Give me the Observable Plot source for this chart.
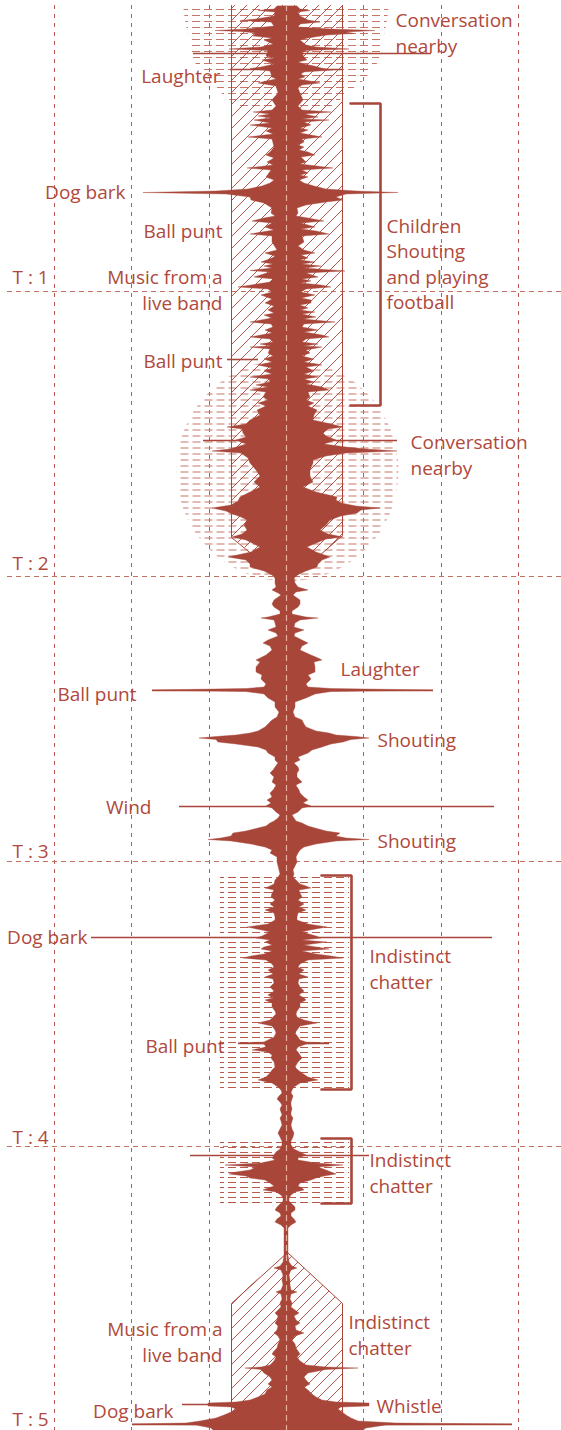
<!DOCTYPE html>
<html><head><meta charset="utf-8">
<script src="https://cdn.jsdelivr.net/npm/d3@7"></script>
<script src="https://cdn.jsdelivr.net/npm/@observablehq/plot@0.6"></script>
<style>html,body{margin:0;padding:0;background:#fff;}svg{display:block;}</style>
</head><body><div id="chart"></div>
<script>
// time in frames (T marks every ~285 frames), amplitude in level units
const tickLabels = ["T : 1", "T : 2", "T : 3", "T : 4", "T : 5"];
const tickFrames = [291, 576, 861, 1146, 1431];
const tickLabelFrames = [283, 569, 857, 1143, 1425];
const gridAmps = [-232, -155, -77, 77, 155, 232];

const leftWave = [[6,9],[9,12],[10.5,28],[12,11],[16,12],[19,30],[20.5,46],[22,15],[26,12],[29,40],[30.5,71],[31.5,45],[33,30],[36,33],[38,14],[40,22],[44,13],[47,25],[49,57],[50.5,18],[56,20],[58,12],[60,24],[64,12],[67,25],[68.5,36],[71,16],[77,14],[79,10],[81,20],[83,28],[86,10],[93,8],[100,14],[106,10],[110,14],[112,33],[114,16],[116,28],[118,15],[120,32],[123,16],[125,36],[128,14],[131,20],[134,13],[137,38],[139,14],[147,12],[152,16],[155,20],[158,12],[162,19],[165,13],[168,39],[170,15],[177,20],[180,12],[183,16],[186,24],[189,38],[191,70],[192.5,143],[194,60],[197,36],[200,35],[203,22],[208,14],[213,15],[216,11],[218,22],[221,34],[223,14],[227,21],[230,12],[234,36],[236,14],[242,14],[250,9],[253,21],[256,11],[258,14],[262,25],[264,13],[266,22],[268,14],[270.5,36],[272,16],[277,32],[279,13],[282,16],[287,48],[289,18],[292,14],[295,25],[299,14],[303,21],[306,12],[310,18],[313,12],[315,22],[318,14],[322,36],[324,15],[327,13],[330,21],[333,14],[337,36],[339,16],[342,13],[344,26],[346,15],[347,36],[349,16],[353,18],[356,13],[359,22],[362,14],[365,28],[368,14],[371,22],[374,14],[377,36],[379,17],[382,16],[385,30],[387,18],[390,36],[392,20],[397,23],[400,18],[403,28],[406,20],[410,29],[415,26],[420,36],[424,40],[427,59],[429,44],[433,43],[437,40],[440,50],[444,40],[449,56],[451,74],[453,45],[458,38],[463,36],[470,30],[476,26],[482,32],[487,26],[492,36],[497,46],[501,48],[505,55],[508,74],[511,60],[513,56],[517,45],[520,39],[525,42],[530,39],[534,44],[537,54],[540,40],[547,26],[552,35],[557,58],[560,40],[564,36],[567,36],[571,22],[575,14],[578,11],[583,11],[587,10],[590,14],[593,8],[595,5],[600,12],[604,14],[607,12],[611,6],[614,6],[617,18],[618,25],[620,12],[623,11],[627,10],[630,18],[633,10],[636,8],[640,18],[643,23],[646,16],[650,14],[655,20],[658,26],[660,30],[662,26],[667,30],[672,30],[675,24],[679,25],[684,20],[687,22],[688.5,40],[690,134],[691.5,40],[694,22],[698,18],[702,11],[707,11],[712,7],[717,9],[720,14],[724,18],[727,21],[731,28],[733,36],[735,50],[736.5,70],[738,87],[739.5,70],[742,68],[744,50],[747,28],[750,20],[753,18],[757,11],[760,11],[763,8],[767,11],[770,13],[773,16],[777,12],[782,14],[785,10],[787,11],[790,13],[793,16],[797,14],[800,19],[803,15],[806,20],[808,14],[812,10],[815,6],[818,8],[821,12],[823,16],[826,20],[828,28],[831,40],[833,53],[836,55],[838,65],[839.5,78],[841,55],[844,35],[847,21],[850,14],[853,16],[857,9],[862,9],[866,8],[870,7],[874,6],[877,8],[880,11],[884,12],[886,16],[888,21],[890,12],[893,14],[897,15],[900,11],[904,16],[907,12],[910,21],[913,12],[917,11],[920,11],[924,18],[927,39],[930,24],[932,16],[936,24],[938,30],[940,16],[942,21],[945,14],[947,22],[949,25],[951,14],[954,22],[956,35],[958,43],[960,20],[964,14],[967,12],[970,18],[974,13],[977,21],[979,13],[983,12],[987,16],[991,12],[995,18],[998,13],[1000,21],[1003,14],[1007,14],[1011,11],[1014,10],[1017,13],[1020,16],[1023,28],[1026,14],[1030,11],[1033,10],[1037,12],[1040,18],[1042,22],[1043,48],[1044,22],[1047,20],[1050,34],[1052,18],[1055,14],[1058,15],[1062,12],[1067,11],[1070,14],[1073,16],[1077,20],[1080,28],[1083,14],[1087,8],[1090,5],[1093,4],[1096,7],[1099,9],[1102,6],[1105,4],[1109,6],[1112,5],[1115,4],[1118,6],[1121,5],[1125,4],[1129,6],[1133,8],[1137,6],[1141,4],[1145,4],[1149,6],[1152,10],[1155,12],[1158,14],[1160,11],[1163,25],[1165,61],[1167,30],[1170,36],[1172,50],[1174,57],[1176,40],[1178,36],[1180,21],[1183,16],[1186,12],[1188,18],[1190,23],[1192,10],[1195,5],[1198,3],[1201,3],[1204,6],[1207,9],[1210,11],[1213,6],[1216,5],[1219,9],[1222,11],[1225,5],[1228,2],[1235,2],[1245,2],[1255,2],[1262,3],[1266,6],[1268,12],[1270,5],[1275,3],[1280,4],[1285,3],[1290,5],[1292,10],[1294,5],[1299,4],[1303,6],[1307,5],[1310,8],[1313,11],[1316,8],[1320,9],[1323,11],[1326,8],[1330,9],[1333,12],[1336,8],[1340,6],[1344,8],[1348,9],[1351,12],[1354,14],[1357,10],[1361,12],[1365,16],[1367,25],[1368,41],[1369.5,25],[1373,22],[1377,16],[1380,14],[1384,18],[1387,14],[1390,19],[1394,21],[1397,28],[1400,36],[1402,50],[1403,78],[1406,78],[1407,55],[1409,50],[1412,55],[1415,62],[1418,70],[1421,86],[1423,100],[1424,154],[1425,90],[1428,75],[1431,72]];

const rightWave = [[6,11],[9,14],[10.5,24],[12,12],[16,14],[20,22],[22,34],[24,14],[27,12],[29,45],[30.5,89],[32,60],[33.5,68],[35,41],[38,22],[40,14],[45,20],[47,30],[49,63],[50.5,20],[53,16],[57,18],[60,21],[62,12],[64,18],[66,28],[68,35],[70,47],[72,18],[74,15],[77,19],[79,12],[81,24],[83,34],[85,16],[88,12],[93,14],[100,17],[106,12],[110,16],[112,45],[114,18],[117,32],[119,16],[120,43],[122,18],[125,25],[128,14],[130,22],[133,14],[137,36],[139,16],[142,18],[145,12],[147,18],[150,13],[152,22],[155,29],[157,15],[162,20],[164,14],[168,47],[170,16],[173,22],[175,14],[177,22],[180,13],[183,18],[186,28],[189,40],[191,70],[192.5,112],[194,60],[197,50],[200,57],[202,40],[205,20],[208,11],[213,12],[216,10],[218,22],[221,38],[223,15],[227,29],[229,15],[231,30],[234,43],[236,16],[242,18],[246,12],[250,18],[253,29],[255,15],[258,22],[260,14],[262,29],[264,16],[266,35],[268,18],[271,59],[273,20],[277,32],[279,16],[281,25],[283,15],[285,35],[287,45],[289,20],[292,15],[295,29],[298,15],[300,25],[303,25],[305,14],[308,22],[310,14],[312,29],[314,16],[317,30],[319,17],[322,49],[324,18],[327,16],[330,32],[332,18],[335,36],[337,43],[339,20],[342,16],[344,32],[346,18],[347,36],[350,20],[353,24],[356,16],[359,28],[362,18],[365,36],[367,20],[371,28],[374,18],[377,32],[379,18],[382,28],[384,20],[387,36],[390,43],[392,22],[397,24],[400,20],[403,28],[406,22],[410,31],[415,28],[420,27],[424,45],[427,57],[429,42],[433,37],[436,40],[440,50],[444,38],[447,60],[449,80],[451,111],[453,60],[456,40],[460,27],[463,27],[470,24],[476,24],[482,27],[487,17],[492,30],[497,51],[500,50],[503,55],[506,70],[508,94],[510,75],[513,71],[516,55],[520,44],[525,40],[530,34],[534,42],[537,57],[539,40],[544,28],[547,21],[552,30],[557,44],[560,36],[564,32],[567,31],[571,20],[575,11],[578,8],[583,9],[587,12],[590,22],[592,10],[595,7],[600,14],[604,14],[607,12],[611,6],[614,6],[617,20],[618,32],[620,14],[623,9],[627,8],[630,18],[633,9],[636,8],[640,16],[643,22],[646,16],[650,14],[655,25],[658,32],[660,36],[662,28],[667,29],[672,29],[675,22],[679,25],[684,20],[687,22],[688.5,45],[690,147],[691.5,45],[694,29],[698,20],[702,9],[707,9],[712,7],[717,9],[720,16],[724,18],[727,20],[731,30],[733,43],[735,50],[736.5,70],[738,83],[739.5,65],[742,57],[744,45],[747,36],[750,26],[753,22],[757,12],[760,14],[763,8],[767,12],[770,13],[773,11],[777,11],[782,16],[785,10],[787,11],[790,13],[793,14],[797,18],[800,22],[803,17],[806,25],[808,16],[812,12],[815,6],[818,8],[821,10],[823,16],[826,22],[828,29],[831,40],[833,54],[836,50],[838,60],[839.5,83],[841,50],[844,30],[847,18],[850,14],[853,12],[857,10],[862,11],[866,9],[870,7],[874,8],[877,7],[880,10],[884,14],[886,20],[888,25],[890,13],[893,14],[897,16],[900,12],[904,18],[907,13],[910,20],[913,12],[917,11],[920,11],[924,22],[927,41],[930,24],[932,16],[936,30],[938,35],[940,16],[942,41],[945,18],[947,30],[949,43],[951,16],[954,30],[956,45],[958,57],[960,22],[964,14],[967,12],[970,18],[974,13],[977,22],[979,13],[983,12],[987,14],[991,18],[995,13],[998,18],[1000,20],[1003,14],[1007,14],[1011,11],[1014,10],[1017,11],[1020,18],[1023,31],[1026,14],[1030,11],[1033,9],[1037,12],[1040,14],[1042,20],[1043,43],[1044,20],[1047,12],[1050,10],[1052,12],[1055,14],[1058,16],[1062,12],[1067,9],[1070,12],[1073,16],[1077,22],[1080,32],[1083,14],[1087,8],[1090,6],[1093,5],[1096,7],[1099,6],[1102,5],[1105,5],[1109,6],[1112,5],[1115,5],[1118,7],[1121,6],[1125,5],[1129,6],[1133,8],[1137,7],[1141,5],[1145,5],[1149,8],[1152,14],[1155,20],[1158,12],[1160,12],[1163,30],[1165,57],[1167,32],[1170,40],[1172,45],[1174,50],[1176,38],[1178,30],[1180,25],[1183,14],[1186,12],[1188,16],[1190,18],[1192,9],[1195,5],[1198,3],[1201,3],[1204,6],[1207,9],[1210,9],[1213,5],[1216,5],[1219,8],[1222,10],[1225,5],[1228,2],[1235,2],[1245,2],[1255,2],[1262,3],[1266,6],[1268,11],[1270,5],[1275,3],[1280,4],[1285,4],[1290,5],[1292,11],[1294,5],[1299,4],[1303,6],[1307,5],[1310,9],[1313,13],[1316,8],[1320,10],[1323,14],[1326,9],[1330,10],[1333,18],[1336,9],[1340,6],[1344,9],[1348,10],[1351,12],[1354,14],[1357,11],[1361,14],[1365,20],[1367,40],[1368,72],[1369.5,40],[1373,22],[1377,18],[1380,20],[1384,24],[1387,18],[1390,22],[1394,26],[1397,30],[1400,36],[1402,50],[1403,83],[1406,83],[1407,55],[1409,52],[1412,56],[1415,60],[1418,65],[1421,72],[1423,110],[1424,226],[1425,100],[1428,80],[1431,75]];

// annotation events: [frame, from amp, to amp]
const leaders = [[53,-93,145],[69,-56,57],[359,-59,-28],[440,-83,111],[690,-134,147],[806,-107,208],[937,-195,206],[1043,-48,43],[1155,-96,83],[1404,-104,-60],[1424,-154,226]];
// brackets: [start frame, end frame, bar amp, arm amp]
const brackets = [[103,405,94,64],[875,1089,65,35],[1138,1203,65,35]];
// indistinct chatter zones: [start, end, left amp, right amp]
const chatterZones = [[877,1088,-66,63],[1139,1203,-66,63]];
// conversation zones
const cloudTop = [[5,-103,103],[20,-101,101],[40,-97,97],[62,-92,92],[80,-74,78],[92,-66,62],[100,-56,54],[106,-46,46],[110,-25,25],[112,0,0]];
const cloudMid = [[470, 1]];
// music zones (hatched)
const hatchTop = [[5,-55,56],[536,-55,56],[583,1,1]];
const hatchTopEdge = [[-55,5],[-55,537],[1,583],[56,535],[56,5]];
const hatchBottom = [[1252,1,1],[1303,-55,56],[1431,-55,56]];
const hatchBottomEdge = [[-55,1431],[-55,1303],[1,1252],[56,1303],[56,1431]];

// labels: [text, baseline frame, amp]
const labelsEnd = [["Laughter",82,-66],["Dog bark",198,-161],["Ball punt",237,-64],["Music from a",283,-64],["live band",309,-64],["Ball punt",367,-64],["Ball punt",700,-150],["Wind",813,-135],["Dog bark",943,-199],["Ball punt",1052,-62],["Music from a",1335,-64],["live band",1361,-64],["Dog bark",1417,-113]];
const labelsStart = [["Conversation",26,109],["nearby",52,109],["Children",232,100],["Shouting",257,100],["and playing",283,100],["football",308,100],["Conversation",448,124],["nearby",474,124],["Laughter",675,54],["Shouting",746,91],["Shouting",847,91],["Indistinct",962,83],["chatter",988,83],["Indistinct",1166,83],["chatter",1192,83],["Indistinct",1328,62],["chatter",1354,62],["Whistle",1412,90]];

const INK = "#a8463a";
const TEXT = "#b0493b";
const GRID = "#b95c4d";
const FONT = "Open Sans";

const bracketPts = brackets.flatMap((b, i) => [
  {a: b[3], t: b[0], id: i}, {a: b[2], t: b[0], id: i},
  {a: b[2], t: b[1], id: i}, {a: b[3], t: b[1], id: i}
]);
const tickData = tickLabels.map((s, i) => ({s, t: tickLabelFrames[i]}));

const svg = Plot.plot({
  width: 561, height: 1430, margin: 0,
  x: {domain: [-286, 275], range: [0, 561], axis: null},
  y: {domain: [0, 1430], range: [0, 1430], axis: null},
  style: {background: "#fff", overflow: "visible"},
  marks: [
    Plot.ruleX(gridAmps, {x: d => d, y1: 5, y2: 1430, stroke: GRID, strokeWidth: 1, strokeDasharray: "4,5"}),
    Plot.ruleY(tickFrames, {y: d => d, x1: -279, x2: 275, stroke: "#c4705f", strokeWidth: 1, strokeDasharray: "5,4"}),
    Plot.areaX(cloudTop, {y: d => d[0], x1: d => d[1], x2: d => d[2], fill: "url(#dashLight)", curve: "linear"}),
    Plot.dot(cloudMid, {y: d => d[0], x: d => d[1], r: 111, fill: "url(#dashLight)", stroke: "none"}),
    Plot.rect(chatterZones, {y1: d => d[0], y2: d => d[1], x1: d => d[2], x2: d => d[3], fill: "url(#dashDark)"}),
    Plot.areaX(hatchTop, {y: d => d[0], x1: d => d[1], x2: d => d[2], fill: "url(#hatch)", curve: "linear"}),
    Plot.areaX(hatchBottom, {y: d => d[0], x1: d => d[1], x2: d => d[2], fill: "url(#hatch)", curve: "linear"}),
    Plot.line(hatchTopEdge, {x: d => d[0], y: d => d[1], stroke: INK, strokeWidth: 1}),
    Plot.line(hatchBottomEdge, {x: d => d[0], y: d => d[1], stroke: INK, strokeWidth: 1}),
    Plot.areaX(leftWave, {y: d => d[0], x1: d => -d[1], x2: 0, fill: INK, stroke: INK, strokeWidth: 0.4, curve: "linear"}),
    Plot.areaX(rightWave, {y: d => d[0], x1: 0, x2: d => d[1], fill: INK, stroke: INK, strokeWidth: 0.4, curve: "linear"}),
    Plot.ruleY(leaders, {y: d => d[0], x1: d => d[1], x2: d => d[2], stroke: INK, strokeWidth: 1.6}),
    Plot.ruleX([0], {x: d => d, y1: 5, y2: 1430, stroke: "#eaae9f", strokeWidth: 1.2, strokeDasharray: "6,4"}),
    Plot.line(bracketPts, {x: "a", y: "t", z: "id", stroke: INK, strokeWidth: 2.6, strokeLinejoin: "miter", curve: "linear"}),
    Plot.text(labelsEnd, {x: d => d[2], y: d => d[1], text: d => d[0], textAnchor: "end", lineAnchor: "bottom", fill: TEXT, fontSize: 19, fontFamily: FONT}),
    Plot.text(labelsStart, {x: d => d[2], y: d => d[1], text: d => d[0], textAnchor: "start", lineAnchor: "bottom", fill: TEXT, fontSize: 19, fontFamily: FONT}),
    Plot.text(tickData, {x: -274, y: "t", text: "s", textAnchor: "start", lineAnchor: "bottom", fill: TEXT, fontSize: 19, fontFamily: FONT})
  ]
});

const defs = d3.select(svg).insert("defs", ":first-child");
const hatch = defs.append("pattern").attr("id", "hatch").attr("patternUnits", "userSpaceOnUse").attr("width", 12).attr("height", 12);
hatch.append("path").attr("d", "M-1,13 L13,-1 M-1,1 L1,-1 M11,13 L13,11").attr("stroke", INK).attr("stroke-width", 0.9).attr("fill", "none");
const dd = defs.append("pattern").attr("id", "dashDark").attr("patternUnits", "userSpaceOnUse").attr("width", 12).attr("height", 5);
dd.append("path").attr("d", "M0,2.5 H8").attr("stroke", "#b9594a").attr("stroke-width", 1);
const dl = defs.append("pattern").attr("id", "dashLight").attr("patternUnits", "userSpaceOnUse").attr("width", 12).attr("height", 6);
dl.append("path").attr("d", "M0,3.5 H8").attr("stroke", "#c77566").attr("stroke-width", 1);

document.getElementById("chart").append(svg);
</script>
</body></html>
